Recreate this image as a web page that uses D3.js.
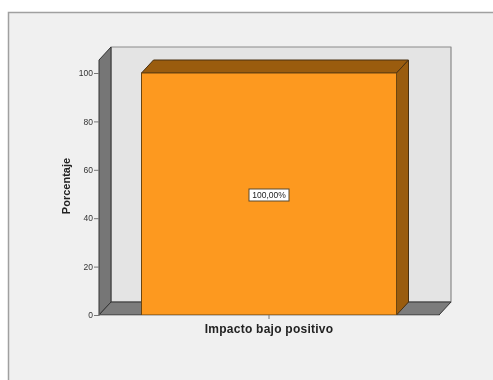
<!DOCTYPE html>
<html><head><meta charset="utf-8">
<script src="https://cdn.jsdelivr.net/npm/d3@7"></script>
<style>html,body{margin:0;padding:0;background:#fff}svg{display:block;filter:blur(.5px)}text{font-family:"Liberation Sans",Arial,sans-serif}</style>
</head><body><div id="c"></div>
<script>
const categories = ["Impacto bajo positivo"];
const values = [100];
const labels = ["100,00%"];
const yTicks = [0,20,40,60,80,100];
const yTitle = "Porcentaje";

const W=493,H=380, dx=12, dy=-13;
const svg=d3.select("#c").append("svg").attr("width",W).attr("height",H);
svg.append("rect").attr("width",W).attr("height",H).attr("fill","#fff");
svg.append("rect").attr("x",8.5).attr("y",12.5).attr("width",W).attr("height",H).attr("fill","#f0f0f0").attr("stroke","#a0a0a0").attr("stroke-width",1.5);

const y=d3.scaleLinear().domain([0,100]).range([315,73]);
const x=d3.scaleBand().domain(categories).range([99,439]).paddingInner(0.25).paddingOuter(0.125);
const x0=99,x1=439,y0=y(0),yTop=60;
const poly=(pts,fill,stroke="#333",sw=1)=>svg.append("polygon").attr("points",pts.map(p=>p.join(",")).join(" ")).attr("fill",fill).attr("stroke",stroke).attr("stroke-width",sw).attr("stroke-linejoin","round");

// back wall, side wall, floor
poly([[x0+dx,yTop+dy],[x1+dx,yTop+dy],[x1+dx,y0+dy],[x0+dx,y0+dy]],"#e4e4e4","#8a8a8a",1.2);
poly([[x0,yTop],[x0+dx,yTop+dy],[x0+dx,y0+dy],[x0,y0]],"#767676");
poly([[x0,y0],[x0+dx,y0+dy],[x1+dx,y0+dy],[x1,y0]],"#7c7c7c");

// bar
categories.forEach((c,i)=>{
  const a=x(c), b=x(c)+x.bandwidth(), t=y(values[i]);
  poly([[a,t],[a+dx,t+dy],[b+dx,t+dy],[b,t]],"#9a5c0e","#4a3010");
  poly([[b,t],[b+dx,t+dy],[b+dx,y0+dy],[b,y0]],"#9a5c0e","#4a3010");
  poly([[a,t],[b,t],[b,y0],[a,y0]],"#fd991f","#6b4510");
  const cx=(a+b)/2, cy=(t+y0)/2+1;
  svg.append("rect").attr("x",cx-20).attr("y",cy-6).attr("width",40).attr("height",12).attr("fill","#fff").attr("stroke","#5a4a30").attr("stroke-width",1);
  svg.append("text").attr("x",cx).attr("y",cy+3).attr("text-anchor","middle").attr("font-size",8.5).attr("fill","#222").text(labels[i]);
});

// axes
const ay=d3.axisLeft(y).tickValues(yTicks).tickSize(5).tickPadding(1);
const gy=svg.append("g").attr("transform",`translate(${x0},0)`).call(ay);
gy.select(".domain").attr("stroke","#555");
gy.selectAll(".tick line").attr("stroke","#777");
gy.selectAll("text").attr("font-size",8.5).attr("fill","#333").style("font-family","Liberation Sans");
const ax=d3.axisBottom(x).tickSize(4).tickPadding(5).tickSizeOuter(0);
const gx=svg.append("g").attr("transform",`translate(0,${y0})`).call(ax);
gx.select(".domain").attr("stroke","#bbb");
gx.selectAll(".tick line").attr("stroke","#777");
gx.selectAll("text").attr("font-size",12).attr("font-weight","bold").attr("letter-spacing",0.25).attr("fill","#222").style("font-family","Liberation Sans");

svg.append("text").attr("transform","translate(70,186) rotate(-90)").attr("text-anchor","middle").attr("font-size",11).attr("font-weight","bold").attr("fill","#222").text(yTitle);
</script></body></html>
